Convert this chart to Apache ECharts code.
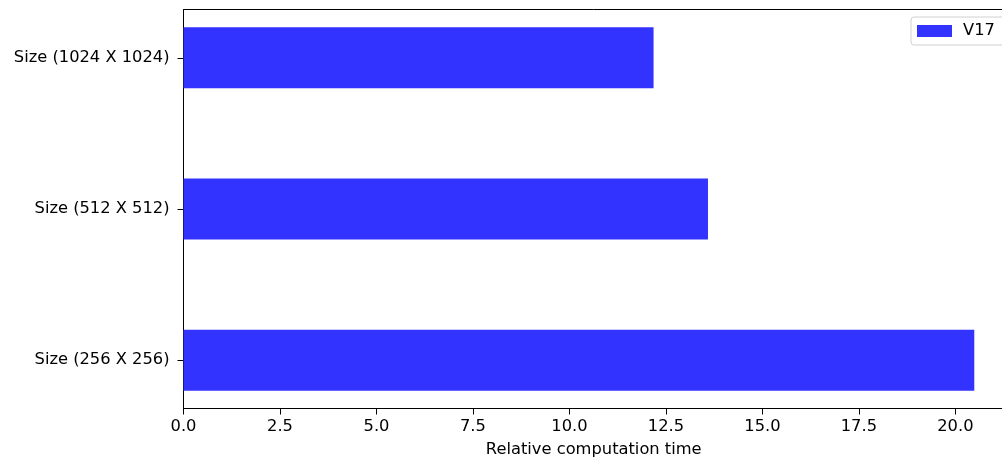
<!DOCTYPE html>
<html><head><meta charset="utf-8">
<script src="https://cdn.jsdelivr.net/npm/echarts@6/dist/echarts.min.js"></script>
<style>html,body{margin:0;padding:0;background:#fff}#c{width:1002px;height:460px}</style>
</head><body><div id="c"></div>
<script>
const categories = ['Size (256 X 256)', 'Size (512 X 512)', 'Size (1024 X 1024)'];
const v17 = [20.49, 13.59, 12.18];
const xTicks = [0, 2.5, 5, 7.5, 10, 12.5, 15, 17.5, 20];
const seriesName = 'V17';
const xTitle = 'Relative computation time';

const chart = echarts.init(document.getElementById('c'), null, {renderer: 'canvas'});
const font = 'DejaVu Sans';
const FS = 16.3;
const XMAX = 21.26;
const yMin = -0.32, yMax = 2.32;
const plotTop = 9.5, plotBottom = 408.5;
const unit = (plotBottom - plotTop) / (yMax - yMin);
const bandTop = plotTop - ((categories.length - 0.5) - yMax) * unit;
const bandH = categories.length * unit;
chart.setOption({
  animation: false,
  textStyle: {fontFamily: font},
  grid: [
    {left: 183.5, right: -2, top: plotTop, height: plotBottom - plotTop, show: true, borderColor: '#000', borderWidth: 1, outerBoundsMode: 'none', containLabel: false},
    {left: 183.5, right: -2, top: bandTop, height: bandH, show: false, outerBoundsMode: 'none', containLabel: false}
  ],
  legend: {
    data: [seriesName], left: 911, top: 17, orient: 'vertical',
    itemWidth: 35, itemHeight: 12, icon: 'rect',
    padding: [6, 14, 6, 6], borderColor: '#d0d0d0', borderWidth: 1, borderRadius: 3,
    textStyle: {fontFamily: font, fontSize: FS, color: '#000', padding: [0, 0, 0, 6]}
  },
  xAxis: [{
    type: 'value', min: 0, max: XMAX, gridIndex: 0,
    axisLine: {show: true, onZero: false, lineStyle: {color: '#000', width: 1}},
    axisTick: {show: true, length: 6, lineStyle: {color: '#000'}, customValues: xTicks},
    axisLabel: {customValues: xTicks, formatter: v => v.toFixed(1), color: '#000', fontSize: FS, fontFamily: font, margin: 10},
    splitLine: {show: false},
    name: xTitle, nameLocation: 'middle', nameGap: 33,
    nameTextStyle: {fontSize: FS, color: '#000', fontFamily: font}
  }, {
    type: 'value', min: 0, max: XMAX, gridIndex: 1, show: false, splitLine: {show: false}
  }],
  yAxis: [{
    type: 'value', min: yMin, max: yMax, gridIndex: 0,
    axisLine: {show: true, onZero: false, lineStyle: {color: '#000', width: 1}},
    axisTick: {show: true, length: 6, lineStyle: {color: '#000'}, customValues: [0, 1, 2]},
    axisLabel: {customValues: [0, 1, 2], formatter: v => categories[Math.round(v)] || '', color: '#000', fontSize: FS, fontFamily: font, margin: 14},
    splitLine: {show: false}
  }, {
    type: 'category', data: categories, gridIndex: 1, show: false
  }],
  series: [{
    name: seriesName, type: 'bar', barWidth: 61, xAxisIndex: 1, yAxisIndex: 1,
    itemStyle: {color: 'rgb(51,51,255)'},
    data: v17
  }]
});
</script></body></html>
